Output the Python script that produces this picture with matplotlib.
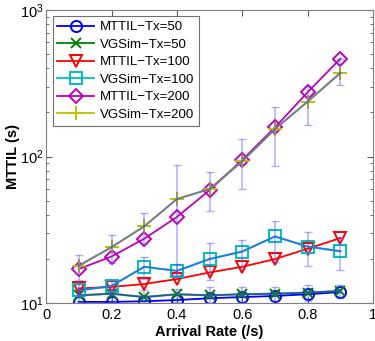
import numpy as np
import matplotlib
matplotlib.use("Agg")
import matplotlib.pyplot as plt

plt.rcParams["font.family"] = ["Liberation Sans", "DejaVu Sans"]
plt.rcParams["mathtext.fontset"] = "custom"
plt.rcParams["mathtext.rm"] = "Liberation Sans"

# ── Data ──────────────────────────────────────────────────────────────────────
rate = [0.1, 0.2, 0.3, 0.4, 0.5, 0.6, 0.7, 0.8, 0.9]

mttil_50 = [10.2, 10.2, 10.3, 10.5, 10.8, 11.0, 11.2, 11.5, 11.9]
vgsim_50 = [11.3, 11.6, 11.0, 11.5, 11.3, 11.5, 11.6, 11.8, 12.1]
mttil_100 = [12.6, 12.9, 13.5, 14.6, 16.2, 17.7, 20.0, 23.5, 27.8]
vgsim_100 = [12.2, 13.1, 17.7, 16.6, 20.0, 22.5, 28.5, 24.3, 22.6]
mttil_200 = [17.1, 20.8, 27.5, 38.7, 59.0, 95.0, 158.0, 275.0, 465.0]
vgsim_200 = [18.0, 24.1, 33.4, 51.3, 60.0, 93.0, 154.0, 237.0, 372.0]

# error bar ends (upper / lower) for the VGSim runs
vgsim_50_hi = [12.5, 12.5, 12.2, 12.5, 12.8, 12.8, 12.9, 13.3, 13.3]
vgsim_50_lo = [10.3, 10.3, 10.1, 10.2, 10.0, 10.2, 10.3, 10.4, 10.8]
vgsim_100_hi = [13.5, 14.2, 20.8, 18.6, 25.6, 27.1, 36.4, 30.5, 28.2]
vgsim_100_lo = [11.2, 12.0, 14.6, 15.2, 14.3, 17.1, 19.0, 18.0, 16.9]
vgsim_200_hi = [21.4, 29.0, 41.5, 88.0, 78.0, 131.0, 217.0, 305.0, 465.0]
vgsim_200_lo = [14.4, 18.7, 25.5, 15.6, 42.4, 60.0, 86.0, 164.0, 309.0]

fig = plt.figure(figsize=(3.75, 3.41), dpi=100)
ax = fig.add_axes([0.123, 0.111, 0.872, 0.860])

series = [
    (mttil_50, "MTTIL\u2212Tx=50", "b", "o", 8),
    (vgsim_50, "VGSim\u2212Tx=50", "#008000", "x", 7),
    (mttil_100, "MTTIL\u2212Tx=100", "r", "v", 8),
    (vgsim_100, "VGSim\u2212Tx=100", "#00bfbf", "s", 8),
    (mttil_200, "MTTIL\u2212Tx=200", "#bf00bf", "D", 7),
    (vgsim_200, "VGSim\u2212Tx=200", "#bfbf00", "+", 10),
]
for vals, label, col, mk, ms in series:
    ax.plot(rate, vals, color=col, lw=1.3, marker=mk, ms=ms, mec=col,
            mfc="none", mew=1.4, label=label)

# translucent blue error bars, with the line through the means drawn over
for vals, hi, lo in [(vgsim_50, vgsim_50_hi, vgsim_50_lo),
                     (vgsim_100, vgsim_100_hi, vgsim_100_lo),
                     (vgsim_200, vgsim_200_hi, vgsim_200_lo)]:
    v = np.array(vals)
    yerr = [v - np.array(lo), np.array(hi) - v]
    ax.errorbar(rate, v, yerr=yerr, fmt="none", ecolor=(0.3, 0.3, 1.0, 0.45),
                elinewidth=1.1, capsize=3, capthick=1.0)
    ax.plot(rate, v, "-", color=(0.2, 0.3, 0.9, 0.55), lw=1.5)

ax.set_yscale("log")
ax.set_xlim(0, 1)
ax.set_ylim(10, 1000)
ax.set_xticks([0, 0.2, 0.4, 0.6, 0.8, 1.0])
ax.set_xticklabels(["0", "0.2", "0.4", "0.6", "0.8", "1"])
ax.tick_params(which="both", direction="in", top=True, right=True,
               labelsize=10.5, color="0.35")
ax.tick_params(axis="y", which="major", pad=2)
ax.tick_params(which="major", length=4)
ax.tick_params(which="minor", length=2)
for s in ax.spines.values():
    s.set_color("0.5")

ax.set_xlabel("Arrival Rate (/s)", fontsize=10.5, fontweight="bold", labelpad=2)
ax.set_ylabel("MTTIL (s)", fontsize=10.5, fontweight="bold", labelpad=0)

leg = ax.legend(loc="upper left", fontsize=9.5, frameon=True, fancybox=False,
                edgecolor="0.3", handlelength=2.8, borderpad=0.35,
                labelspacing=0.4, borderaxespad=0.5, handletextpad=0.4)
leg.get_frame().set_linewidth(0.8)

fig.savefig("out.png", dpi=100)
